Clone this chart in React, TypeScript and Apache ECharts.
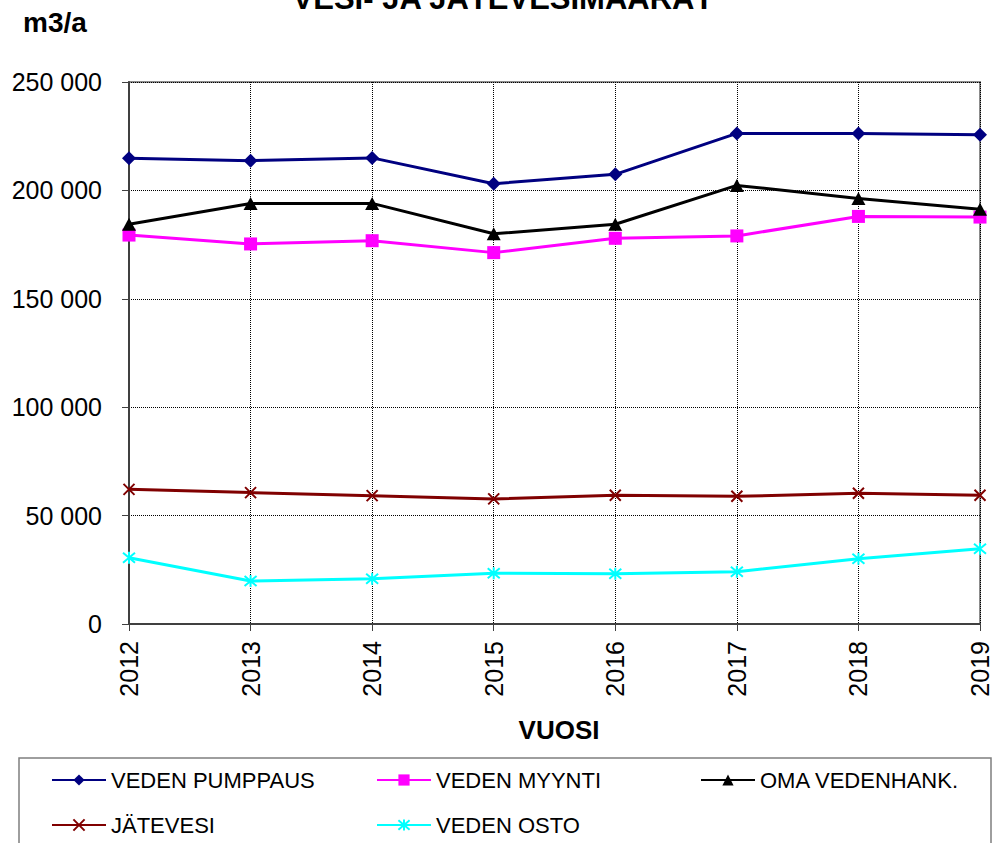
import React, { useEffect, useRef } from "react";
import * as echarts from "echarts";

const years = ["2012", "2013", "2014", "2015", "2016", "2017", "2018", "2019"];
const vedenPumppaus = [214800, 213700, 215000, 203100, 207400, 226300, 226300, 225700];
const vedenMyynti = [179400, 175300, 176800, 171300, 177900, 179000, 188000, 187700];
const omaVedenhank = [184400, 194000, 194000, 180000, 184400, 202300, 196300, 191300];
const jatevesi = [62100, 60600, 59200, 57700, 59400, 58900, 60300, 59400];
const vedenOsto = [30600, 19800, 20900, 23400, 23200, 24100, 30100, 34700];
const yTicks = [0, 50000, 100000, 150000, 200000, 250000];

const FONT = "'Liberation Sans', Arial, sans-serif";

const fmt = (v: number) => String(v).replace(/\B(?=(\d{3})+(?!\d))/g, " ");

export default function App() {
  const ref = useRef<HTMLDivElement>(null);
  useEffect(() => {
    document.body.style.margin = "0";
    if (!ref.current) return;
    const chart = echarts.init(ref.current, undefined, { renderer: "svg" });

    const xSym = "path://M0,0L10,10M10,0L0,10";
    const starSym = "path://M0,0L10,10M10,0L0,10M5,-1L5,11";

    const mk = (name: string, data: number[], color: string, symbol: string, size: number | number[], stroke = false) => ({
      name,
      type: "line",
      data,
      symbol,
      symbolSize: size,
      showSymbol: true,
      lineStyle: { color, width: 3 },
      itemStyle: stroke ? { color, borderColor: color, borderWidth: 2 } : { color },
    });

    const legendPos = [
      { name: "VEDEN PUMPPAUS", left: 51, top: 769 },
      { name: "VEDEN MYYNTI", left: 376, top: 769 },
      { name: "OMA VEDENHANK.", left: 700, top: 769 },
      { name: "JÄTEVESI", left: 51, top: 814 },
      { name: "VEDEN OSTO", left: 376, top: 814 },
    ];

    chart.setOption({
      animation: false,
      backgroundColor: "#fff",
      textStyle: { fontFamily: FONT },
      grid: {
        left: 129,
        right: 15,
        top: 82,
        bottom: 219,
        show: true,
        borderColor: "#8c8c8c",
        borderWidth: 2,
        containLabel: false,
      },
      legend: legendPos.map((l) => ({
        data: [l.name],
        left: l.left,
        top: l.top,
        padding: 0,
        itemWidth: 54,
        itemHeight: 14,
        selectedMode: false,
        textStyle: { fontSize: 22, color: "#000", fontFamily: FONT },
      })),
      xAxis: {
        type: "category",
        data: years,
        boundaryGap: false,
        axisLine: { show: true, lineStyle: { color: "#404040", width: 2 } },
        axisTick: { show: true, length: 7, inside: false, lineStyle: { color: "#404040", width: 1 } },
        axisLabel: { rotate: 90, margin: 17, fontSize: 25, color: "#000", fontFamily: FONT },
        splitLine: { show: true, lineStyle: { type: "dotted", color: "#000", width: 1 } },
      },
      yAxis: {
        type: "value",
        min: yTicks[0],
        max: yTicks[yTicks.length - 1],
        interval: 50000,
        axisLine: { show: true, lineStyle: { color: "#404040", width: 2 } },
        axisTick: { show: true, length: 7, inside: false, lineStyle: { color: "#404040", width: 1 } },
        axisLabel: { margin: 27, fontSize: 25, color: "#000", fontFamily: FONT, formatter: (v: number) => fmt(v) },
        splitLine: { show: true, lineStyle: { type: "dotted", color: "#000", width: 1 } },
      },
      graphic: [
        {
          type: "text",
          x: 503,
          y: -2,
          style: {
            text: "VESI- JA JÄTEVESIMÄÄRÄT",
            font: `bold 31px ${FONT}`,
            fill: "#000",
            align: "center",
            verticalAlign: "middle",
          },
        },
        {
          type: "text",
          x: 23,
          y: 22,
          style: {
            text: "m3/a",
            font: `bold 28px ${FONT}`,
            fill: "#000",
            align: "left",
            verticalAlign: "middle",
          },
        },
        {
          type: "text",
          x: 559,
          y: 730,
          style: {
            text: "VUOSI",
            font: `bold 26px ${FONT}`,
            fill: "#000",
            align: "center",
            verticalAlign: "middle",
          },
        },
        {
          type: "rect",
          shape: { x: 19, y: 758, width: 972, height: 120 },
          style: { fill: "none", stroke: "#7f7f7f", lineWidth: 1.5 },
          z: -1,
        },
      ],
      series: [
        mk("VEDEN PUMPPAUS", vedenPumppaus, "#000080", "diamond", 14),
        mk("VEDEN MYYNTI", vedenMyynti, "#ff00ff", "rect", 13),
        mk("OMA VEDENHANK.", omaVedenhank, "#000000", "triangle", [14, 13]),
        mk("JÄTEVESI", jatevesi, "#800000", xSym, 11, true),
        mk("VEDEN OSTO", vedenOsto, "#00ffff", starSym, 12, true),
      ],
    });
    return () => chart.dispose();
  }, []);
  return <div ref={ref} style={{ width: 995, height: 843 }} />;
}
